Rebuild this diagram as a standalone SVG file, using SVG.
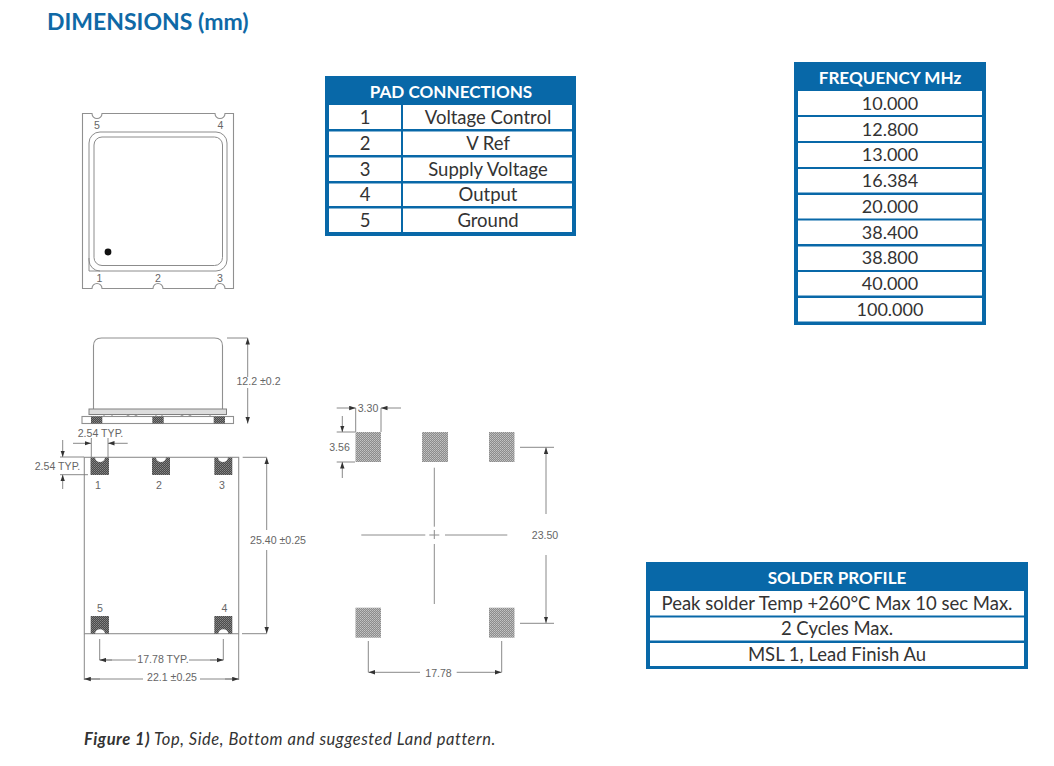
<svg xmlns="http://www.w3.org/2000/svg" width="1054" height="766" viewBox="0 0 1054 766">
<style>
.bg{fill:#fff}
.tb{fill:#0868a8}
.cell{fill:#fff}
.hd{font:700 17.100px Lato,"Liberation Sans",sans-serif;fill:#fff;text-anchor:middle}
.td{font:400 18.500px Lato,"Liberation Sans",sans-serif;fill:#333;text-anchor:middle}
.fq{font-size:18px}
.ln{fill:none;stroke:#8c8c8c;stroke-width:1}
.ol{fill:none;stroke:#909090;stroke-width:1.100}
.dm{fill:none;stroke:#7c7c7c;stroke-width:.9}
.ar{marker-end:url(#ah)}
.lb{font:400 10.600px "Liberation Sans",Arial,sans-serif;fill:#666;text-anchor:middle}
.pk{fill:url(#dark)}
.pl{fill:url(#light)}
</style>
<defs>
<marker id="ah" markerWidth="7" markerHeight="5" refX="6.500" refY="2.500" orient="auto" markerUnits="userSpaceOnUse"><path d="M0 .3L6.500 2.500L0 4.700Z" fill="#333"/></marker>
<pattern id="dark" width="2" height="2" patternUnits="userSpaceOnUse"><rect width="2" height="2" fill="#4a4a4a"/><rect width="1" height="1" fill="#888"/><rect x="1" y="1" width="1" height="1" fill="#777"/></pattern>
<pattern id="light" width="2" height="2" patternUnits="userSpaceOnUse"><rect width="2" height="2" fill="#8c8c8c"/><rect width="1" height="1" fill="#c4c4c4"/><rect x="1" y="1" width="1" height="1" fill="#b4b4b4"/></pattern>
</defs>
<rect class="bg" width="1054" height="766"/>
<text id="title" x="47" y="30" style="font:700 23px Lato,'Liberation Sans',sans-serif;fill:#0f69a6">DIMENSIONS (mm)</text>

<g id="pad-connections">
<rect class="tb" x="325" y="76" width="251" height="160"/>
<rect class="cell" x="329" y="105" width="72" height="24"/><rect class="cell" x="403" y="105" width="169" height="24"/>
<rect class="cell" x="329" y="131.500" width="72" height="23.500"/><rect class="cell" x="403" y="131.500" width="169" height="23.500"/>
<rect class="cell" x="329" y="157.500" width="72" height="23.500"/><rect class="cell" x="403" y="157.500" width="169" height="23.500"/>
<rect class="cell" x="329" y="183.500" width="72" height="22.500"/><rect class="cell" x="403" y="183.500" width="169" height="22.500"/>
<rect class="cell" x="329" y="208.500" width="72" height="23.500"/><rect class="cell" x="403" y="208.500" width="169" height="23.500"/>
<text class="hd" x="451" y="98">PAD CONNECTIONS</text>
<text class="td" x="365" y="124">1</text><text class="td" x="488" y="124">Voltage Control</text>
<text class="td" x="365" y="150">2</text><text class="td" x="488" y="150">V Ref</text>
<text class="td" x="365" y="176">3</text><text class="td" x="488" y="176">Supply Voltage</text>
<text class="td" x="365" y="201">4</text><text class="td" x="488" y="201">Output</text>
<text class="td" x="365" y="227">5</text><text class="td" x="488" y="227">Ground</text>
</g>

<g id="frequency">
<rect class="tb" x="794" y="62" width="192" height="263"/>
<rect class="cell" x="798" y="91" width="184" height="24"/>
<rect class="cell" x="798" y="117" width="184" height="24"/>
<rect class="cell" x="798" y="143" width="184" height="24"/>
<rect class="cell" x="798" y="169" width="184" height="23.500"/>
<rect class="cell" x="798" y="195" width="184" height="23.500"/>
<rect class="cell" x="798" y="220.500" width="184" height="23.500"/>
<rect class="cell" x="798" y="246.500" width="184" height="23.500"/>
<rect class="cell" x="798" y="272" width="184" height="23.500"/>
<rect class="cell" x="798" y="298" width="184" height="23.500"/>
<text class="hd" x="890" y="83.500">FREQUENCY MHz</text>
<text class="td fq" x="890" y="110">10.000</text>
<text class="td fq" x="890" y="136">12.800</text>
<text class="td fq" x="890" y="161">13.000</text>
<text class="td fq" x="890" y="187">16.384</text>
<text class="td fq" x="890" y="213">20.000</text>
<text class="td fq" x="890" y="239">38.400</text>
<text class="td fq" x="890" y="264">38.800</text>
<text class="td fq" x="890" y="290">40.000</text>
<text class="td fq" x="890" y="316">100.000</text>
</g>

<g id="solder-profile">
<rect class="tb" x="646" y="562" width="382" height="107"/>
<rect class="cell" x="650" y="591" width="374" height="24.500"/>
<rect class="cell" x="650" y="617.500" width="374" height="23"/>
<rect class="cell" x="650" y="643" width="374" height="23"/>
<text class="hd" x="837" y="584">SOLDER PROFILE</text>
<text class="td" x="837" y="610">Peak solder Temp +260°C Max 10 sec Max.</text>
<text class="td" x="837" y="635">2 Cycles Max.</text>
<text class="td" x="837" y="661">MSL 1, Lead Finish Au</text>
</g>

<g id="top-view">
<path class="ol" d="M82.500 113.500H92A5 5 0 0 0 102 113.500H215A5 5 0 0 0 225 113.500H233.500V288.500H225A5 5 0 0 0 215 288.500H163A5 5 0 0 0 153 288.500H102A5 5 0 0 0 92 288.500H82.500Z"/>
<rect class="ln" x="89" y="132" width="138" height="139" rx="11"/>
<rect class="ln" x="94" y="137" width="128.500" height="128.500" rx="8"/>
<path class="ln" d="M89 258V271H100"/>
<circle cx="108" cy="252" r="3.400" fill="#111"/>
<text class="lb" x="97" y="129">5</text><text class="lb" x="220.500" y="129">4</text>
<text class="lb" x="99.500" y="282">1</text><text class="lb" x="158" y="282">2</text><text class="lb" x="220" y="282">3</text>
</g>

<g id="side-view">
<path class="ol" d="M93.500 409V346Q93.500 338 101.500 338H214.500Q222.500 338 222.500 346V409"/>
<rect x="89" y="409" width="137.500" height="5.500" fill="#ddd" stroke="#808080"/>
<path class="ln" d="M104 414.500V416M112 414.500V416M126 414.500L130 416.500H134L138 414.500M156 414.500V416M162 414.500V416M180 414.500L184 416.500H188L192 414.500M210 414.500V416"/>
<rect class="ol" x="82" y="416.500" width="151.500" height="7"/>
<rect class="pk" x="91" y="416.500" width="11.300" height="7"/>
<rect class="pk" x="152.300" y="416.500" width="11.400" height="7"/>
<rect class="pk" x="213.700" y="416.500" width="11.300" height="7"/>
</g>

<g id="bottom-view">
<rect class="ol" x="84.300" y="457.300" width="154.400" height="176.400"/>
<g id="pad-1"><path class="pk" d="M90.500 457.500H95A5 4.500 0 0 0 105 457.500H109V475H90.500Z"/><text class="lb" x="98" y="489">1</text></g>
<g id="pad-2"><path class="pk" d="M152 457.500H156A5 4.500 0 0 0 166 457.500H170V475H152Z"/><text class="lb" x="159" y="489">2</text></g>
<g id="pad-3"><path class="pk" d="M214.300 457.500H218A5 4.500 0 0 0 228 457.500H232.300V475H214.300Z"/><text class="lb" x="222" y="489">3</text></g>
<g id="pad-5"><path class="pk" d="M90.700 616H109V633.700H105A5 4.500 0 0 0 95 633.700H90.700Z"/><text class="lb" x="100" y="612">5</text></g>
<g id="pad-4"><path class="pk" d="M214.300 616H232.300V633.700H228.300A5 4.500 0 0 0 218.300 633.700H214.300Z"/><text class="lb" x="224.500" y="612">4</text></g>
</g>

<g id="land-pattern">
<rect class="pl" x="355.500" y="432" width="25.500" height="30"/>
<rect class="pl" x="422" y="432" width="26" height="30"/>
<rect class="pl" x="489" y="432" width="25.500" height="30"/>
<rect class="pl" x="355.500" y="607.700" width="25.500" height="30"/>
<rect class="pl" x="489" y="607.700" width="25.500" height="30"/>
<path class="ln" d="M434.300 467.700V526.700M434.300 530V539M434.300 544V604M361.300 535H425.300M429.300 535H439.300M445 535H507.300"/>
</g>

<g id="connectors">
<path class="dm" d="M227 338H247.700M242.700 457.300H266.700M242 633.700H266.700M91.300 438V457M108 438V457M60 457H84M60 474.700H88M99.700 639V660H136M223.300 639V660H189M84.300 634V680M238.700 634V680M84.300 679H143M238.700 679H200"/>
<path class="dm ar" d="M247.700 377V338"/><path class="dm ar" d="M247.700 388V423.500"/>
<path class="dm ar" d="M73 443.300H91"/><path class="dm ar" d="M127.700 443.300H108"/>
<path class="dm ar" d="M62.700 440V457"/><path class="dm ar" d="M62.700 489V474.700"/>
<path class="dm ar" d="M266.700 530V457.500"/><path class="dm ar" d="M266.700 550V633.500"/>
<path class="dm ar" d="M112 660H99.700"/><path class="dm ar" d="M210 660H223.300"/>
<path class="dm ar" d="M100 679H84.300"/><path class="dm ar" d="M225 679H238.700"/>
<path class="dm" d="M355.700 408V432M381 408V432M336.700 432H355M336.700 462H355M520 447.300H554M520 623.300H554M368.300 641V672.300M501.700 641V672.300"/>
<path class="dm ar" d="M336.700 408H355.700"/><path class="dm ar" d="M401 408H381"/>
<path class="dm ar" d="M342.300 416V432"/><path class="dm ar" d="M342.300 478V462"/>
<path class="dm ar" d="M546 514V447.500"/><path class="dm ar" d="M546 555V623"/>
<path class="dm ar" d="M420 672.300H368.500"/><path class="dm ar" d="M456.700 672.300H501.500"/>
</g>

<g id="dimension-labels">
<text class="lb" x="258.500" y="385">12.2 ±0.2</text>
<text class="lb" x="100.500" y="436.500">2.54 TYP.</text>
<text class="lb" x="57.500" y="470">2.54 TYP.</text>
<text class="lb" x="278" y="544">25.40 ±0.25</text>
<text class="lb" x="163" y="663">17.78 TYP.</text>
<text class="lb" x="172" y="681">22.1 ±0.25</text>
<text class="lb" x="368" y="412">3.30</text>
<text class="lb" x="339.500" y="451">3.56</text>
<text class="lb" x="545" y="539">23.50</text>
<text class="lb" x="438.500" y="677">17.78</text>
</g>

<text id="caption" x="84" y="745" style="font:italic 400 16.500px Lato,'Liberation Sans',sans-serif;fill:#333;letter-spacing:.55px"><tspan font-weight="700">Figure 1)</tspan> Top, Side, Bottom and suggested Land pattern.</text>
</svg>
